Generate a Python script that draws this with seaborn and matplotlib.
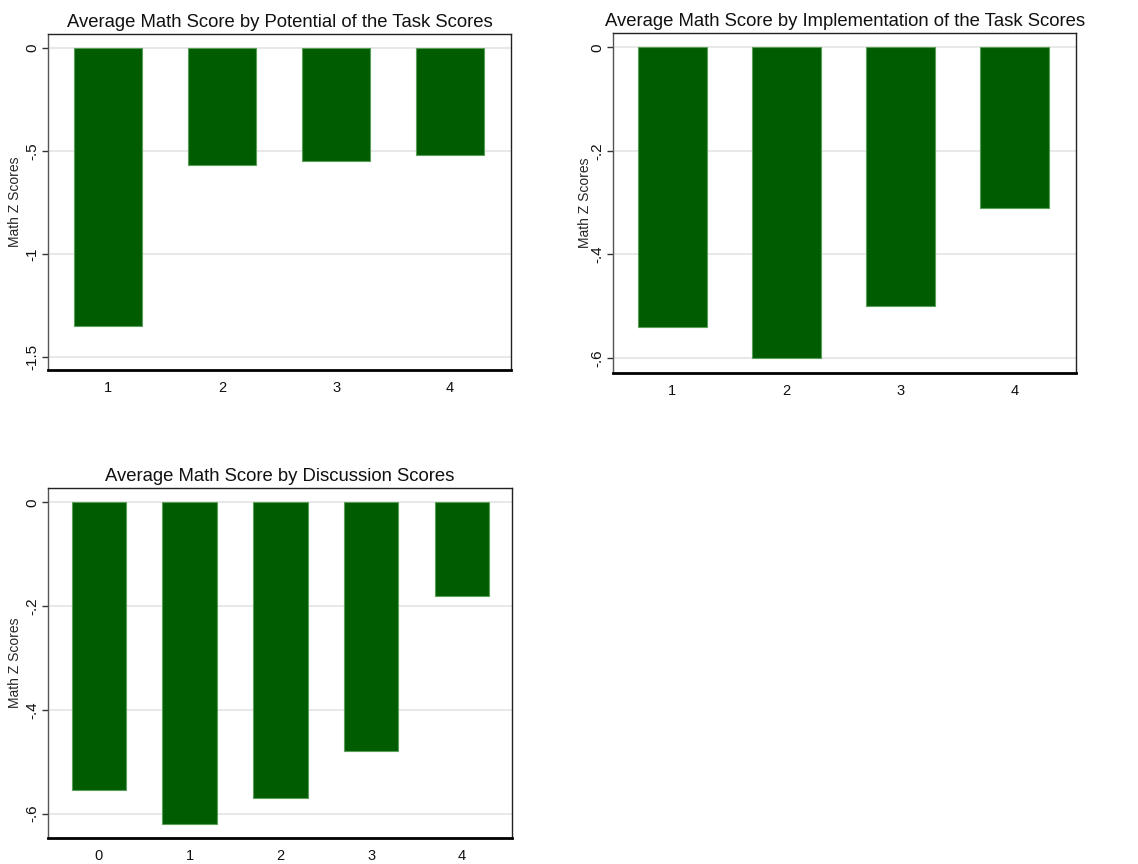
import matplotlib
matplotlib.use("Agg")
import matplotlib.pyplot as plt
import seaborn as sns
import pandas as pd

# Average math z-scores by rating level
potential_levels = ["1", "2", "3", "4"]
potential_scores = [-1.35, -0.57, -0.55, -0.52]

implementation_levels = ["1", "2", "3", "4"]
implementation_scores = [-0.54, -0.60, -0.50, -0.31]

discussion_levels = ["0", "1", "2", "3", "4"]
discussion_scores = [-0.555, -0.62, -0.57, -0.48, -0.18]

y_ticks_potential = [0, -0.5, -1, -1.5]
y_ticklabels_potential = ["0", "-.5", "-1", "-1.5"]
y_ticks_small = [0, -0.2, -0.4, -0.6]
y_ticklabels_small = ["0", "-.2", "-.4", "-.6"]

sns.set_theme(style="white")
plt.rcParams["font.family"] = ["Liberation Sans", "DejaVu Sans"]

BAR_COLOR = "#005C00"
EDGE_COLOR = "#5A9E5A"

fig = plt.figure(figsize=(11.38, 8.64), dpi=100)
fig.patch.set_facecolor("white")

panels = [
    dict(rect=[0.0422, 0.5718, 0.4069, 0.3889],
         levels=potential_levels, scores=potential_scores,
         title="Average Math Score by Potential of the Task Scores",
         ticks=y_ticks_potential, ticklabels=y_ticklabels_potential,
         ylim=(-1.563, 0.068), xlim=(-0.526, 3.535), label_x=-0.056),
    dict(rect=[0.5387, 0.5683, 0.4069, 0.3935],
         levels=implementation_levels, scores=implementation_scores,
         title="Average Math Score by Implementation of the Task Scores",
         ticks=y_ticks_small, ticklabels=y_ticklabels_small,
         ylim=(-0.629, 0.028), xlim=(-0.52, 3.54), label_x=-0.046),
    dict(rect=[0.0422, 0.0301, 0.4077, 0.4054],
         levels=discussion_levels, scores=discussion_scores,
         title="Average Math Score by Discussion Scores",
         ticks=y_ticks_small, ticklabels=y_ticklabels_small,
         ylim=(-0.647, 0.028), xlim=(-0.56, 4.55), label_x=-0.056),
]

for p in panels:
    ax = fig.add_axes(p["rect"])
    df = pd.DataFrame({"level": p["levels"], "score": p["scores"]})
    sns.barplot(data=df, x="level", y="score", ax=ax, order=p["levels"],
                color=BAR_COLOR, saturation=1, width=0.6,
                edgecolor=EDGE_COLOR, linewidth=0.8, errorbar=None, zorder=3)
    ax.set_xlim(*p["xlim"])
    ax.set_ylim(*p["ylim"])
    ax.set_yticks(p["ticks"])
    ax.set_yticklabels(p["ticklabels"], rotation=90, va="center", fontsize=11)
    ax.tick_params(axis="y", length=4, width=1, color="#333333", pad=2,
                   left=True, labelcolor="#111111")
    ax.tick_params(axis="x", length=0, pad=8, labelsize=10.5, labelcolor="#111111")
    ax.yaxis.grid(True, color="#E4E4E4", linewidth=1.2, zorder=0)
    ax.xaxis.grid(False)
    ax.set_xlabel("")
    ax.set_ylabel("Math Z Scores", fontsize=10)
    ax.yaxis.set_label_coords(p["label_x"], 0.5)
    ax.set_title(p["title"], fontsize=13.3, pad=5, color="#111111")
    for side in ["top", "right", "left"]:
        ax.spines[side].set_visible(True)
        ax.spines[side].set_color("#222222")
        ax.spines[side].set_linewidth(1.0)
    ax.spines["left"].set_color("#555555")
    ax.spines["bottom"].set_color("#000000")
    ax.spines["bottom"].set_linewidth(2.0)

fig.savefig("out.png", dpi=100, facecolor="white")
